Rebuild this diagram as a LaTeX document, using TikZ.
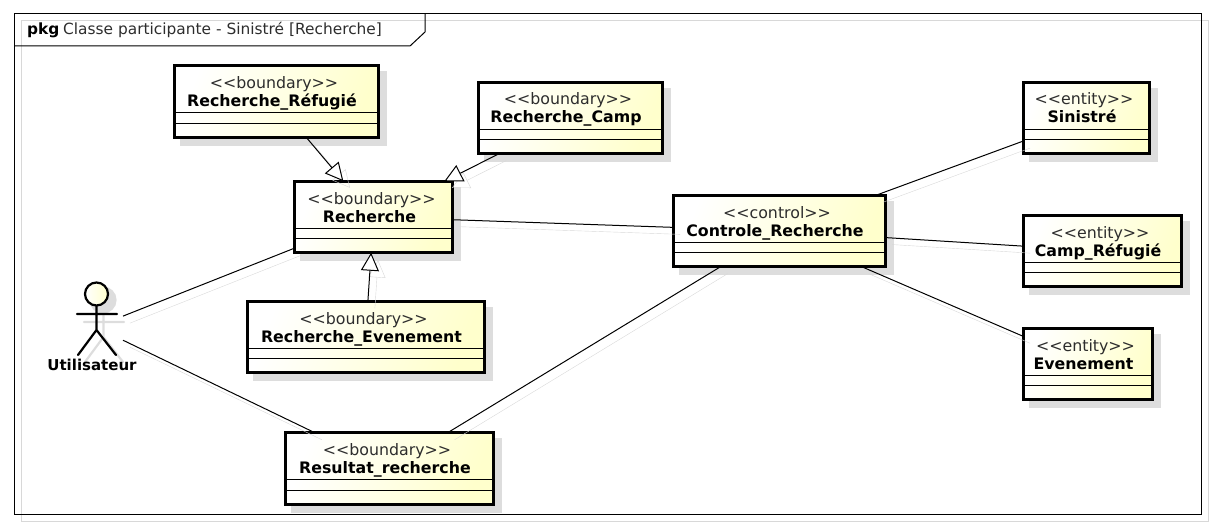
\documentclass[tikz,border=0pt]{standalone}
\usepackage{fontspec}
\setmainfont{DejaVu Sans}
\newfontfamily\stereofont{DejaVu Sans}
\usetikzlibrary{arrows.meta,calc,shadows}
\definecolor{classyellow}{RGB}{255,255,204}
\definecolor{boxshade}{RGB}{221,221,221}
\definecolor{lineshade}{RGB}{216,216,216}
\definecolor{thintext}{RGB}{45,45,45}
\newcommand{\classtext}[2]{{\stereofont\color{thintext}<<#1>>\hspace*{4pt}}\\{\bfseries #2\kern8pt}\\[2pt]\mbox{}}
\tikzset{
  classbox/.style={draw=black,line width=3pt,outer sep=0pt,inner sep=0pt,
                   minimum height=71.5pt,left color=white,right color=classyellow,shading angle=70,
                   align=center,font=\fontsize{15.8}{18}\selectfont,
                   copy shadow={shadow xshift=7pt,shadow yshift=-7pt,draw=boxshade,fill=boxshade}},
  compart/.style={black,line width=1pt},
  framebox/.style={draw=black,line width=1pt,outer sep=0pt,inner sep=0pt},
  frameshade/.style={lineshade,line width=1pt},
  assoc/.style={black,line width=1pt,preaction={draw=lineshade,transform canvas={shift={(7pt,-7pt)}}}},
  genarrow/.style={black,line width=1pt,-{Triangle[open,length=18pt,width=18pt,fill=white]},
                   preaction={draw=lineshade,transform canvas={shift={(7pt,-7pt)}},
                              -{Triangle[open,length=18pt,width=18pt]}}},
  actorline/.style={line width=2.2pt,line cap=round},
  lab/.style={font=\fontsize{15.4}{18}\selectfont,inner sep=0pt},
}
\begin{document}
\begin{tikzpicture}[x=1pt,y=-1pt]
  \path[use as bounding box] (0,0) rectangle (1214,526);

  % package frame
  \draw[frameshade] (21,21) rectangle (1208,521);
  \node[framebox,minimum width=1187pt,minimum height=500pt] (cadre) at (607.5,264) {};
  \draw[line width=1pt] (425,14)--(425,32)--(410,46)--(14,46);
  \node[lab,anchor=base west] (pkg) at (27,35) {\textbf{pkg}};
  \node[lab,anchor=base west] (titre) at (63,35) {\color{thintext}Classe participante - Sinistré [Recherche]};

  % classes
  \node[classbox,minimum width=204pt] (refugie) at (276,101.5) {\classtext{boundary}{Recherche\_Réfugié}};
  \node[classbox,minimum width=184pt] (camp) at (570,118) {\classtext{boundary}{Recherche\_Camp}};
  \node[classbox,minimum width=158pt] (recherche) at (373.5,217) {\classtext{boundary}{Recherche}};
  \node[classbox,minimum width=237pt] (evenement) at (365.5,337) {\classtext{boundary}{Recherche\_Evenement}};
  \node[classbox,minimum width=208pt] (resultat) at (389,468.5) {\classtext{boundary}{Resultat\_recherche}};
  \node[classbox,minimum width=212pt] (controle) at (779,231) {\classtext{control}{Controle\_Recherche}};
  \node[classbox,minimum width=126pt] (sinistre) at (1086,118) {\classtext{entity}{Sinistré}};
  \node[classbox,minimum width=158pt] (camprefugie) at (1102,251) {\classtext{entity}{Camp\_Réfugié}};
  \node[classbox,minimum width=129pt] (entevenement) at (1087.5,364) {\classtext{entity}{Evenement}};
  \foreach \nom in {refugie,camp,recherche,evenement,resultat,controle,sinistre,camprefugie,entevenement} {
    \draw[compart] ($(\nom.north west)+(0,47)$)--($(\nom.north east)+(0,47)$);
    \draw[compart] ($(\nom.north west)+(0,57.5)$)--($(\nom.north east)+(0,57.5)$);
  }

  % actor
  \node[minimum width=55pt,minimum height=92pt,inner sep=0pt,outer sep=0pt] (utilisateur) at (95.5,327) {};
  \draw[actorline,boxshade,fill=boxshade] (103,300) circle (12.5);
  \draw[actorline,boxshade] (103.5,313)--(103.5,337) (84,322)--(124,322) (85,362)--(103.5,337)--(123,362);
  \draw[actorline] (96.5,306)--(96.5,330) (77,314)--(117,314) (78,355)--(96.5,330)--(116,355);
  \node[draw=black,line width=2.2pt,circle,minimum size=23pt,inner sep=0pt,left color=white,right color=classyellow] (tete) at (96.5,294) {};
  \node[lab,font=\fontsize{15}{18}\selectfont\bfseries] (nomacteur) at (92,365) {Utilisateur};

  % links
  \draw[genarrow] (refugie)--(recherche);
  \draw[genarrow] (camp)--(recherche);
  \draw[genarrow] (evenement)--(recherche);
  \draw[assoc] (utilisateur)--(recherche);
  \draw[assoc] (utilisateur)--(resultat);
  \draw[assoc] (recherche)--(controle);
  \draw[assoc] (resultat)--(controle);
  \draw[assoc] (controle)--(sinistre);
  \draw[assoc] (controle)--(camprefugie);
  \draw[assoc] (controle)--(entevenement);
\end{tikzpicture}
\end{document}
